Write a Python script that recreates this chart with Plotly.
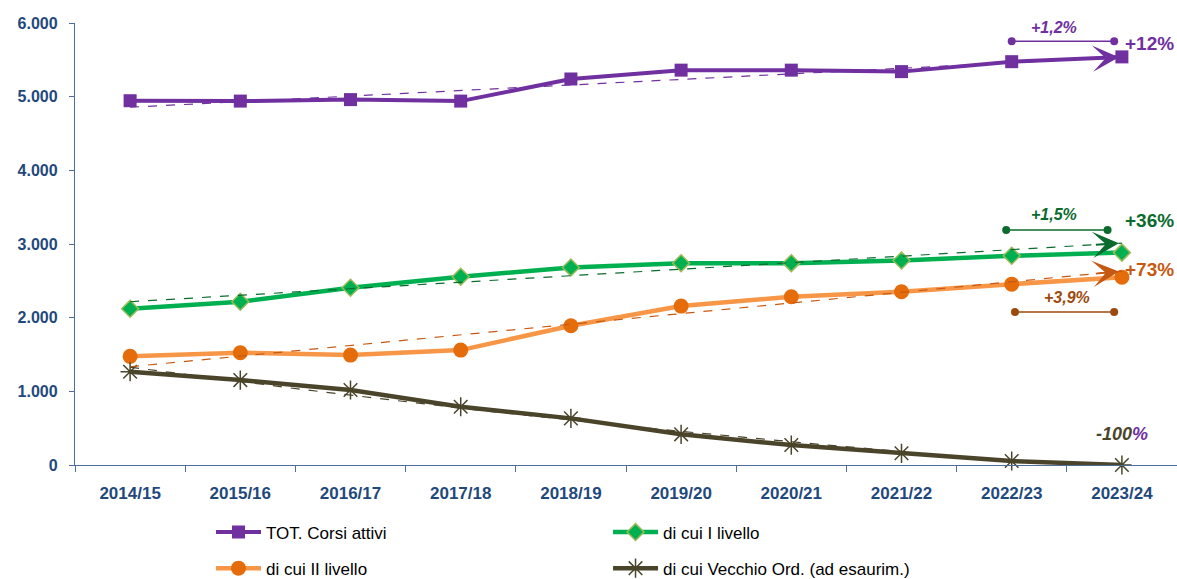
import numpy as np
import plotly.graph_objects as go

# Anni accademici
anni = ["2014/15", "2015/16", "2016/17", "2017/18", "2018/19",
        "2019/20", "2020/21", "2021/22", "2022/23", "2023/24"]

# Corsi attivi per tipologia
tot_corsi = [4945, 4940, 4960, 4940, 5240, 5360, 5360, 5340, 5475, 5540]
primo_livello = [2120, 2216, 2406, 2555, 2682, 2740, 2740, 2775, 2840, 2883]
secondo_livello = [1475, 1524, 1492, 1560, 1890, 2157, 2284, 2351, 2455, 2550]
vecchio_ord = [1266, 1153, 1018, 791, 633, 416, 271, 159, 54, 0]

# Linee di tendenza (valore iniziale, valore finale)
trend_tot = [4857, 5536]
trend_primo = [2216, 3012]
trend_secondo = [1334, 2632]

y_ticks = [0, 1000, 2000, 3000, 4000, 5000, 6000]

PURPLE = "#7030A0"
GREEN = "#00B050"
DKGREEN = "#0B6B2E"
ORANGE_LINE = "#F79646"
ORANGE_MK = "#E46C0A"
BROWN = "#C65911"
OLIVE = "#4A452A"
AXIS_BLUE = "#4F6D9A"
LABEL_BLUE = "#1F497D"
FONT = "Liberation Sans, Arial, sans-serif"

x = list(range(len(anni)))
fig = go.Figure()

# Main series
fig.add_trace(go.Scatter(
    x=x, y=tot_corsi, name="TOT. Corsi attivi", mode="lines+markers",
    line=dict(color=PURPLE, width=4),
    marker=dict(symbol="square", size=13, color=PURPLE),
    legend="legend", legendgroup="a", cliponaxis=False))
fig.add_trace(go.Scatter(
    x=x, y=secondo_livello, name="di cui II livello", mode="lines+markers",
    line=dict(color=ORANGE_LINE, width=4.5),
    marker=dict(symbol="circle", size=15, color=ORANGE_MK),
    legend="legend", legendgroup="b", cliponaxis=False))
fig.add_trace(go.Scatter(
    x=x, y=primo_livello, name="di cui I livello", mode="lines+markers",
    line=dict(color=GREEN, width=4.5),
    marker=dict(symbol="diamond", size=13, color=GREEN,
                line=dict(color="#9BBB59", width=1.5)),
    legend="legend2", legendgroup="c", cliponaxis=False))
fig.add_trace(go.Scatter(
    x=x, y=vecchio_ord, name="di cui Vecchio Ord. (ad esaurim.)", mode="lines+markers",
    line=dict(color=OLIVE, width=4.5),
    marker=dict(symbol="asterisk-open", size=16, color=OLIVE,
                line=dict(color=OLIVE, width=1.5)),
    legend="legend2", legendgroup="d", cliponaxis=False))

# Dashed trend lines ending with an arrow head
for tr, col in [(trend_tot, PURPLE), (trend_primo, DKGREEN), (trend_secondo, BROWN)]:
    fig.add_trace(go.Scatter(
        x=[0, 9], y=tr, mode="lines", showlegend=False, hoverinfo="skip",
        line=dict(color=col, width=1.2, dash="dash")))
    ax = 8.75
    ay = tr[0] + (tr[1] - tr[0]) * ax / 9
    fig.add_annotation(x=9, y=tr[1], ax=ax, ay=ay, axref="x", ayref="y",
                       text="", showarrow=True, arrowhead=3, arrowsize=2.2,
                       arrowwidth=2, arrowcolor=col, standoff=3)

# Polynomial trend for the old-system courses
coef = np.polyfit(x, vecchio_ord, 2)
xv = np.linspace(0, 7, 40)
fig.add_trace(go.Scatter(
    x=xv, y=np.polyval(coef, xv), mode="lines", showlegend=False, hoverinfo="skip",
    line=dict(color=OLIVE, width=1.2, dash="dash")))

# Last-year change markers
bars = [
    ([8.0, 8.93], 5753, PURPLE, "+1,2%", 8.38, 5945),
    ([7.95, 8.87], 3189, DKGREEN, "+1,5%", 8.38, 3406),
    ([8.03, 8.93], 2076, "#9C4A0C", "+3,9%", 8.5, 2280),
]
for bx, by, col, txt, tx, ty in bars:
    fig.add_trace(go.Scatter(
        x=bx, y=[by, by], mode="lines+markers", showlegend=False, hoverinfo="skip",
        line=dict(color=col, width=1.5), marker=dict(color=col, size=8),
        cliponaxis=False))
    fig.add_annotation(x=tx, y=ty, text=f"<b><i>{txt}</i></b>", showarrow=False,
                       font=dict(family=FONT, size=16, color=col))

# Overall change labels
for txt, yy, col in [("+12%", 5726, PURPLE), ("+36%", 3324, DKGREEN), ("+73%", 2659, BROWN)]:
    fig.add_annotation(x=9.25, y=yy, text=f"<b>{txt}</b>", showarrow=False,
                       font=dict(family=FONT, size=19, color=col))
fig.add_annotation(
    x=9.0, y=420,
    text=f"<b><i><span style='color:{OLIVE}'>-100</span><span style='color:{PURPLE}'>%</span></i></b>",
    showarrow=False, font=dict(family=FONT, size=18, color=OLIVE))

fig.update_layout(
    width=1177, height=579,
    margin=dict(l=75, r=0, t=23, b=114, autoexpand=False),
    paper_bgcolor="white", plot_bgcolor="white",
    separators=",.",
    font=dict(family=FONT, color=LABEL_BLUE),
    xaxis=dict(
        range=[-0.5, 9.5], tickmode="array", tickvals=x, ticktext=anni,
        ticks="", showline=True, linecolor=AXIS_BLUE, linewidth=1.3,
        showgrid=False, zeroline=False, ticklabelstandoff=12,
        tickfont=dict(family=FONT, size=17, color=LABEL_BLUE, weight="bold"),
        minor=dict(tickmode="array", tickvals=[i + 0.5 for i in range(-1, 10)],
                   ticks="outside", ticklen=6, tickcolor=AXIS_BLUE, tickwidth=1.3),
    ),
    yaxis=dict(
        range=[0, 6000], tickmode="array", tickvals=y_ticks, tickformat=",d",
        ticks="outside", ticklen=5, tickcolor=AXIS_BLUE, tickwidth=1.3,
        showline=True, linecolor=AXIS_BLUE, linewidth=1.3,
        showgrid=False, zeroline=False, ticklabelstandoff=8,
        tickfont=dict(family=FONT, size=16, color=LABEL_BLUE, weight="bold"),
    ),
    legend=dict(x=0.1234, y=-0.112, xanchor="left", yanchor="top",
                orientation="v", itemwidth=45, tracegroupgap=11,
                font=dict(family=FONT, size=17, color="black"),
                bgcolor="rgba(0,0,0,0)"),
    legend2=dict(x=0.4837, y=-0.112, xanchor="left", yanchor="top",
                 orientation="v", itemwidth=45, tracegroupgap=11,
                 font=dict(family=FONT, size=17, color="black"),
                 bgcolor="rgba(0,0,0,0)"),
    showlegend=True,
)

fig.write_html("out.html")
